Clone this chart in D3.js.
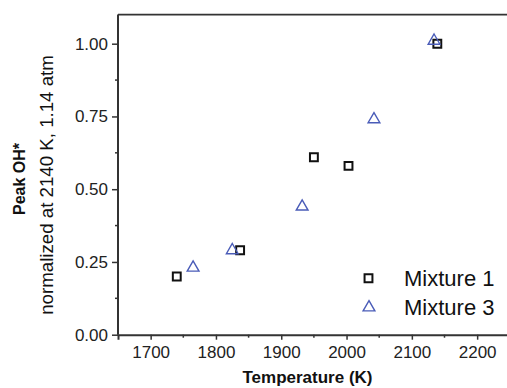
<!DOCTYPE html>
<html><head><meta charset="utf-8">
<script src="https://cdn.jsdelivr.net/npm/d3@7"></script>
<style>body{margin:0;background:#fff}svg{display:block}</style>
</head><body>
<svg id="c" width="507" height="388"></svg>
<script>
const xTicks = [1700, 1800, 1900, 2000, 2100, 2200];
const yTicks = [0, 0.25, 0.5, 0.75, 1.0];
const mix1T = [1740, 1837, 1950, 2003, 2139];
const mix1V = [0.20, 0.29, 0.61, 0.58, 1.00];
const mix3T = [1765, 1825, 1932, 2042, 2134];
const mix3V = [0.23, 0.29, 0.44, 0.74, 1.01];
const seriesNames = ["Mixture 1", "Mixture 3"];

const svg = d3.select("#c");
const x = d3.scaleLinear().domain([1650, 2250]).range([118, 509.8]);
const y = d3.scaleLinear().domain([0, 1]).range([334.7, 43.7]);
const font = "Liberation Sans, Arial, sans-serif";
const axisCol = "#333";

// frame top
svg.append("line").attr("x1", 118).attr("x2", 507).attr("y1", y(1.1)).attr("y2", y(1.1))
  .attr("stroke", axisCol).attr("stroke-width", 1.6);

// x axis
const xAxis = svg.append("g").attr("transform", `translate(0,${y(0)})`)
  .call(d3.axisBottom(x).tickValues(xTicks).tickFormat(d3.format("d")).tickSizeOuter(0).tickSize(5).tickPadding(6));
xAxis.select(".domain").attr("stroke", axisCol).attr("stroke-width", 2);
xAxis.selectAll(".tick line").attr("stroke", axisCol).attr("stroke-width", 1.5);
xAxis.selectAll("text").attr("font-family", font).attr("font-size", 17).attr("fill", "#222");
xAxis.selectAll(".minor").data(d3.range(1750, 2250, 100)).enter().append("line")
  .attr("x1", d => x(d)).attr("x2", d => x(d)).attr("y1", 0).attr("y2", 3)
  .attr("stroke", axisCol).attr("stroke-width", 1.5);

// y axis
const yAxis = svg.append("g").attr("transform", `translate(${x(1650)},0)`)
  .call(d3.axisLeft(y).tickValues(yTicks).tickFormat(d3.format(".2f")).tickSizeOuter(0).tickSize(6).tickPadding(4));
yAxis.select(".domain").attr("d", `M0,${y(1.1)}V${y(0)}`).attr("stroke", axisCol).attr("stroke-width", 2);
yAxis.selectAll(".tick line").attr("stroke", axisCol).attr("stroke-width", 1.5);
yAxis.selectAll("text").attr("font-family", font).attr("font-size", 17).attr("fill", "#222");
yAxis.selectAll(".minor").data([0.125, 0.375, 0.625, 0.875]).enter().append("line")
  .attr("x1", 0).attr("x2", -3).attr("y1", d => y(d)).attr("y2", d => y(d))
  .attr("stroke", axisCol).attr("stroke-width", 1.5);

// axis titles
svg.append("text").attr("x", 307.5).attr("y", 383).attr("text-anchor", "middle")
  .attr("font-family", font).attr("font-weight", "bold").attr("font-size", 17).attr("fill", "#111")
  .text("Temperature (K)");
svg.append("text").attr("transform", "translate(25,179) rotate(-90)").attr("text-anchor", "middle")
  .attr("font-family", font).attr("font-weight", "bold").attr("font-size", 16).attr("fill", "#111")
  .text("Peak OH*");
svg.append("text").attr("transform", "translate(53,185) rotate(-90)").attr("text-anchor", "middle")
  .attr("font-family", font).attr("font-size", 18.7).attr("fill", "#111")
  .text("normalized at 2140 K, 1.14 atm");

// markers
const sq = d3.symbol().type(d3.symbolSquare).size(62)();
const tri = d3.symbol().type(d3.symbolTriangle).size(60)();
const m1 = mix1T.map((t, i) => ({t, v: mix1V[i]}));
const m3 = mix3T.map((t, i) => ({t, v: mix3V[i]}));
svg.append("g").selectAll("path").data(m1).enter().append("path")
  .attr("d", sq).attr("transform", d => `translate(${x(d.t)},${y(d.v)})`)
  .attr("fill", "none").attr("stroke", "#111").attr("stroke-width", 2);
svg.append("g").selectAll("path").data(m3).enter().append("path")
  .attr("d", tri).attr("transform", d => `translate(${x(d.t)},${y(d.v)})`)
  .attr("fill", "none").attr("stroke", "#4a5cb8").attr("stroke-width", 1.4);

// legend
const leg = svg.append("g");
leg.append("path").attr("d", sq).attr("transform", "translate(368.5,278.3)")
  .attr("fill", "none").attr("stroke", "#111").attr("stroke-width", 2);
leg.append("path").attr("d", tri).attr("transform", "translate(369,307.5)")
  .attr("fill", "none").attr("stroke", "#4a5cb8").attr("stroke-width", 1.4);
leg.selectAll("text").data(seriesNames).enter().append("text")
  .attr("x", 404).attr("y", (d, i) => 286 + i * 29)
  .attr("font-family", font).attr("font-size", 22).attr("fill", "#111").text(d => d);
</script>
</body></html>
